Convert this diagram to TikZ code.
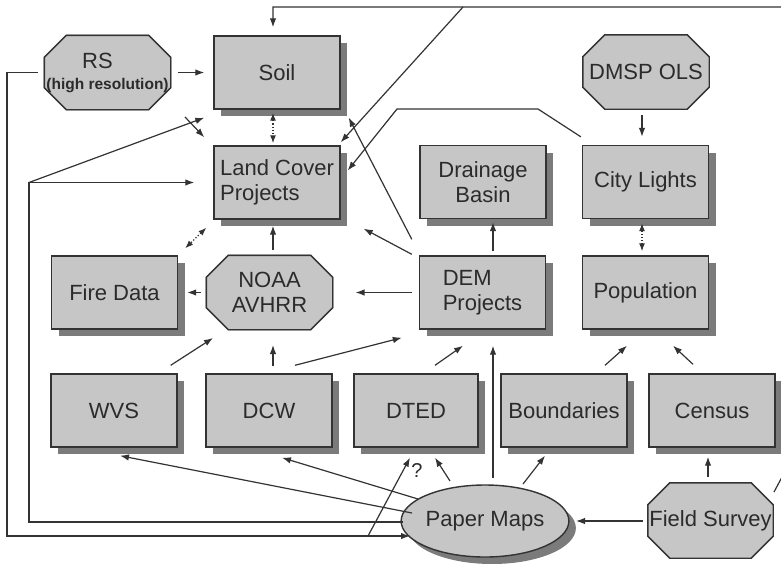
\documentclass[tikz,border=0pt]{standalone}
\usepackage{fontspec}
\setmainfont{Liberation Sans}
\usetikzlibrary{shapes.geometric,shadows,arrows.meta,calc}
\definecolor{boxfill}{HTML}{C6C6C6}
\definecolor{shade}{HTML}{7B7B7B}
\definecolor{edge}{HTML}{333333}
\definecolor{ink}{HTML}{2B2B2B}
\pgfdeclarelayer{bg}
\pgfsetlayers{bg,main}
\newcommand\octagonof[2][22]{%
  \begin{pgfonlayer}{bg}
    \foreach \s/\c/\d in {7/shade/shade,0/boxfill/edge}{%
      \begin{scope}[shift={(\s,\s)}]
        \path[fill=\c, draw=\d, line width=1.4pt]
          ($(#2.north west)+(#1,0)$) -- ($(#2.north east)+(-#1,0)$) --
          ($(#2.north east)+(0,#1)$) -- ($(#2.south east)+(0,-#1)$) --
          ($(#2.south east)+(-#1,0)$) -- ($(#2.south west)+(#1,0)$) --
          ($(#2.south west)+(0,-#1)$) -- ($(#2.north west)+(0,#1)$) -- cycle;
      \end{scope}}
  \end{pgfonlayer}}
\begin{document}
\begin{tikzpicture}[x=1pt,y=-1pt,
  txt/.style={text=ink, inner sep=0pt, align=center, font=\fontsize{22}{25}\selectfont},
  base/.style={txt, draw=edge, line width=1.4pt, fill=boxfill,
    drop shadow={shadow xshift=7pt, shadow yshift=-7pt, fill=shade, opacity=1}},
  box/.style={base, rectangle, minimum width=126pt, minimum height=73pt},
  octa/.style={txt, rectangle, minimum width=126pt, minimum height=74pt},
  oval/.style={base, ellipse, minimum width=130pt, minimum height=72pt},
  arr/.style={draw=edge, line width=1.2pt, -{Latex[length=9pt,width=6.5pt]}},
  darr/.style={draw=edge, line width=1.2pt, dotted, {Latex[length=8pt,width=6pt]}-{Latex[length=8pt,width=6pt]}},
  conn/.style={draw=edge, line width=1.2pt},
  lbl/.style={text=ink, inner sep=0pt, font=\fontsize{20}{22}\selectfont}
]
\useasboundingbox (0,0) rectangle (781,563);
\begin{pgfonlayer}{bg}
\fill[white] (0,0) rectangle (781,563);
\end{pgfonlayer}
\clip (0,0) rectangle (781,563);

% nodes
\node[octa] (rs) at (107.5,72.5) {\hspace*{-20pt}RS\\[-4pt]{\bfseries\fontsize{15.5}{17}\selectfont (high resolution)}};
\octagonof{rs}
\node[box] (soil) at (277,72.5) {Soil};
\node[octa] (dmsp) at (646,72) {DMSP OLS};
\octagonof{dmsp}
\node[box, align=left] (lc) at (277,182.5) {Land Cover\\Projects};
\node[box] (db) at (483,182) {Drainage\\Basin};
\node[box] (cl) at (645.5,182) {City Lights};
\node[box] (fire) at (114.5,292.5) {Fire Data};
\node[octa] (noaa) at (269.5,292.5) {NOAA\\AVHRR};
\octagonof{noaa}
\node[box, align=left] (dem) at (482.5,292.5) {DEM\\Projects};
\node[box] (pop) at (645.5,292.5) {Population};
\node[box] (wvs) at (114,410.5) {WVS};
\node[box] (dcw) at (269,410.5) {DCW};
\node[box, minimum width=124pt] (dted) at (416,410.5) {DTED};
\node[box] (bnd) at (564,410.5) {Boundaries};
\node[box] (cen) at (712,410.5) {Census};
\node[oval] (pm) at (485,521) {Paper Maps};
\node[octa, minimum width=125pt, minimum height=75pt] (fs) at (710.5,520.5) {Field Survey};
\octagonof{fs}

% connectors
\draw[arr] ($(fs.center)+(63.5,-28.5)$) -- (790,462) -- (790,7) -- (273,7) -- ($(soil.north)+(-4,-8)$);
\coordinate (topbr) at (463,7);
\draw[arr] (topbr) -- ($(lc.north east)+(0,-3)$);
\draw[arr] ($(cl.north west)+(-1,-8)$) -- (538,109) -- (397,109) -- ($(lc.east)+(7,-12)$);
\draw[darr] ($(soil.south)+(-4,3)$) -- ($(lc.north)+(-4,-2)$);
\draw[arr] ($(dem.north west)+(-7,-16)$) -- ($(soil.south east)+(8,8)$);
\draw[arr] ($(dem.north west)+(-7,-1)$) -- ($(lc.south east)+(23,9)$);
\draw[arr] ($(dem.north)+(10.5,-4)$) -- ($(db.south)+(10,3)$);
\draw[darr] ($(cl.south)+(-3.5,4)$) -- ($(pop.north)+(-3.5,-4)$);
\draw[arr] ($(dmsp.center)+(-4,43)$) -- ($(cl.north)+(-3.5,-8)$);
\draw[arr] ($(noaa.center)+(3.5,-42.5)$) -- ($(lc.south)+(-4,6)$);
\draw[darr] ($(lc.south west)+(-7,8)$) -- ($(fire.north east)+(7,-7)$);
\draw[arr] ($(noaa.center)+(-69,0)$) -- ($(fire.east)+(9,0)$);
\draw[arr] ($(dem.west)+(-7,0)$) -- ($(noaa.center)+(86,0)$);
\draw[arr] ($(wvs.north east)+(-7,-8)$) -- ($(noaa.center)+(-56.5,45.5)$);
\draw[arr] ($(dcw.north)+(4,-7)$) -- ($(noaa.center)+(3.5,52.5)$);
\draw[arr] ($(dcw.north)+(26,-8)$) -- ($(dem.south west)+(-17,8)$);
\draw[arr] ($(dted.north)+(19,-8)$) -- ($(dem.south)+(-19.5,16)$);
\draw[arr] ($(pm.center)+(8,-43)$) -- ($(dem.south)+(10.5,16)$);
\draw[arr] ($(bnd.north)+(41,-8)$) -- ($(pop.south)+(-18.5,16)$);
\draw[arr] ($(cen.north)+(-19,-9)$) -- ($(pop.south)+(27.5,16)$);
\draw[arr] ($(fs.center)+(-2.5,-43.5)$) -- ($(cen.south)+(-4,9)$);
\draw[arr] ($(fs.center)+(-67.5,0.5)$) -- ($(pm.center)+(91,0)$);
\draw[arr] ($(pm.center)+(38,-37)$) -- ($(bnd.south)+(-19,8)$);
\draw[arr] ($(pm.center)+(-35,-40)$) -- ($(dted.south)+(19,10)$);
% outer loop RS -> Paper Maps, branch to DTED
\draw[arr] ($(rs.center)+(-70,0)$) -- (7,72.5) -- (7,536) -- ($(pm.center)+(-75,15)$);
\coordinate (qfoot) at (368,536);
\draw[arr] (qfoot) -- ($(dted.south)+(-6,10)$);
\node[lbl] (q) at (417,471) {?};
% inner loop Paper Maps -> Land Cover, Soil
\coordinate (ibend) at (29,182.5);
\draw[arr] ($(pm.center)+(-82,1)$) -- (29,522) -- (ibend) -- ($(lc.west)+(-19,0)$);
\draw[arr] (ibend) -- ($(soil.south west)+(-9,8)$);
% RS -> Soil, Land Cover
\draw[arr] ($(rs.center)+(70,0)$) -- ($(soil.west)+(-9,0)$);
\draw[arr] ($(rs.center)+(77.5,44.5)$) -- ($(lc.north west)+(-9,-8)$);
% Paper Maps -> WVS, DCW
\draw[arr] ($(pm.center)+(-73,-8)$) -- ($(wvs.south)+(6,8)$);
\draw[arr] ($(pm.center)+(-67,-22)$) -- ($(dcw.south)+(13,10)$);
\end{tikzpicture}
\end{document}
